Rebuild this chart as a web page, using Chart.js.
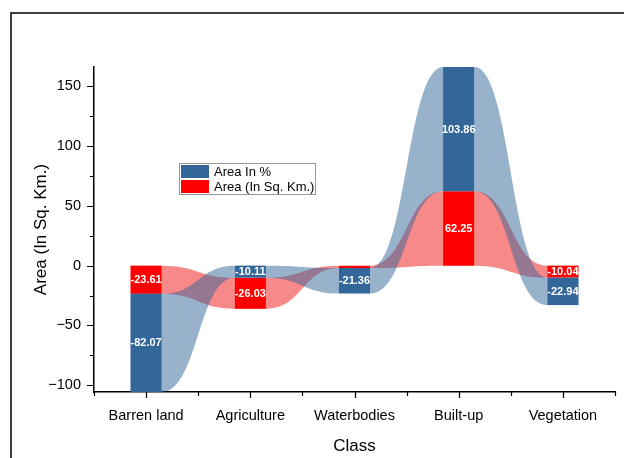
<!DOCTYPE html>
<html>
<head>
<meta charset="utf-8">
<script src="https://cdn.jsdelivr.net/npm/chart.js@4.4.1/dist/chart.umd.min.js"></script>
<style>
  html, body { margin: 0; padding: 0; background: #fff; }
  #wrap { width: 624px; height: 458px; position: relative; }
</style>
</head>
<body>
<div id="wrap"><canvas id="chart"></canvas></div>
<script>
// 데이터
const classes = ['Barren land', 'Agriculture', 'Waterbodies', 'Built-up', 'Vegetation'];
const areaPct = [-82.07, -10.11, -21.36, 103.86, -22.94];
const areaKm = [-23.61, -26.03, -2.0, 62.25, -10.04];
// which series sits against zero in each stack
const innerSeries = ['km', 'pct', 'km', 'km', 'km'];
const yTicks = [-100, -50, 0, 50, 100, 150];
const yMinor = [-75, -25, 25, 75, 125];

// floating ranges for each stack
const pctRange = [];
const kmRange = [];
classes.forEach((c, i) => {
  if (innerSeries[i] === 'km') {
    kmRange.push([0, areaKm[i]]);
    pctRange.push([areaKm[i], areaKm[i] + areaPct[i]]);
  } else {
    pctRange.push([0, areaPct[i]]);
    kmRange.push([areaPct[i], areaPct[i] + areaKm[i]]);
  }
});
const ends = pctRange.concat(kmRange).flat();
const yMin = Math.min(...ends);
const yMax = Math.max(...ends);

const FONT = "'Liberation Sans', Arial, sans-serif";
Chart.defaults.font.family = FONT;
Chart.defaults.color = '#000';

// 연결 밴드 (위쪽 끝끼리, 아래쪽 끝끼리)
const bandPlugin = {
  id: 'bands',
  beforeDatasetsDraw(chart) {
    const { ctx } = chart;
    const y = chart.scales.y;
    [1, 0].forEach((di) => {
      const meta = chart.getDatasetMeta(di);
      const ds = chart.data.datasets[di];
      ctx.save();
      ctx.fillStyle = ds.bandColor;
      for (let i = 0; i < meta.data.length - 1; i++) {
        const a = meta.data[i], b = meta.data[i + 1];
        const ra = ds.data[i], rb = ds.data[i + 1];
        const x0 = a.x + a.width / 2, x1 = b.x - b.width / 2, xm = (x0 + x1) / 2;
        const aTop = y.getPixelForValue(Math.max(...ra)), aBot = y.getPixelForValue(Math.min(...ra));
        const bTop = y.getPixelForValue(Math.max(...rb)), bBot = y.getPixelForValue(Math.min(...rb));
        ctx.beginPath();
        ctx.moveTo(x0, aTop);
        ctx.bezierCurveTo(xm, aTop, xm, bTop, x1, bTop);
        ctx.lineTo(x1, bBot);
        ctx.bezierCurveTo(xm, bBot, xm, aBot, x0, aBot);
        ctx.closePath();
        ctx.fill();
      }
      ctx.restore();
    });
  },
  afterDatasetsDraw(chart) {
    // 값 라벨
    const { ctx } = chart;
    ctx.save();
    ctx.font = 'bold 11px ' + FONT;
    ctx.fillStyle = '#fff';
    ctx.textAlign = 'center';
    ctx.textBaseline = 'middle';
    chart.data.datasets.forEach((ds, di) => {
      chart.getDatasetMeta(di).data.forEach((bar, i) => {
        if (Math.abs(bar.y - bar.base) < 8) return;
        ctx.fillText(ds.values[i].toFixed(2), bar.x, (bar.y + bar.base) / 2 + 0.5);
      });
    });
    ctx.restore();
  },
  afterDraw(chart) {
    const { ctx, chartArea: ca } = chart;
    const x = chart.scales.x, y = chart.scales.y;
    ctx.save();
    ctx.strokeStyle = '#000';
    // 바깥 프레임
    ctx.lineWidth = 1.5;
    ctx.beginPath();
    ctx.moveTo(11, 458);
    ctx.lineTo(11, 13);
    ctx.lineTo(624, 13);
    ctx.stroke();
    // 눈금
    ctx.lineWidth = 1.2;
    ctx.beginPath();
    yTicks.forEach((v) => {
      const p = Math.round(y.getPixelForValue(v)) + 0.5;
      ctx.moveTo(ca.left, p); ctx.lineTo(ca.left - 7, p);
    });
    yMinor.forEach((v) => {
      const p = Math.round(y.getPixelForValue(v)) + 0.5;
      ctx.moveTo(ca.left, p); ctx.lineTo(ca.left - 4, p);
    });
    classes.forEach((c, i) => {
      const p = Math.round(x.getPixelForValue(i)) + 0.5;
      ctx.moveTo(p, ca.bottom); ctx.lineTo(p, ca.bottom + 6);
    });
    const step = x.getPixelForValue(1) - x.getPixelForValue(0);
    for (let i = 0; i <= classes.length; i++) {
      const p = Math.round(x.getPixelForValue(0) - step / 2 + i * step) + 0.5;
      ctx.moveTo(p, ca.bottom); ctx.lineTo(p, ca.bottom + 4);
    }
    ctx.stroke();
    // 범례
    const lx = ca.left + 85, ly = ca.top + 96;
    ctx.fillStyle = '#fff';
    ctx.fillRect(lx, ly, 136, 31);
    ctx.strokeStyle = '#999';
    ctx.lineWidth = 1;
    ctx.strokeRect(lx + 0.5, ly + 0.5, 136, 31);
    ctx.font = '13px ' + FONT;
    ctx.textAlign = 'left';
    ctx.textBaseline = 'middle';
    chart.data.datasets.forEach((ds, di) => {
      const sy = ly + 2 + di * 15;
      ctx.fillStyle = ds.backgroundColor;
      ctx.fillRect(lx + 2, sy, 28, 13);
      ctx.fillStyle = '#000';
      ctx.fillText(ds.label, lx + 35, sy + 7);
    });
    ctx.restore();
  },
};

new Chart(document.getElementById('chart'), {
  type: 'bar',
  data: {
    labels: classes,
    datasets: [
      { label: 'Area In %', data: pctRange, values: areaPct, backgroundColor: '#336699', bandColor: 'rgba(51,102,153,0.5)' },
      { label: 'Area (In Sq. Km.)', data: kmRange, values: areaKm, backgroundColor: '#ff0000', bandColor: 'rgba(240,20,20,0.5)' },
    ],
  },
  options: {
    responsive: true, maintainAspectRatio: false,
    animation: false,
    layout: { padding: { left: 11, top: 67, right: 9, bottom: 0 } },
    datasets: { bar: { grouped: false, barPercentage: 0.3, categoryPercentage: 1, borderWidth: 0 } },
    plugins: { legend: { display: false }, tooltip: { enabled: false } },
    scales: {
      x: {
        grid: { display: false },
        border: { display: true, color: '#000', width: 1.5 },
        ticks: { padding: 7, font: { size: 14.5 }, color: '#000' },
        title: { display: true, text: 'Class', font: { size: 17 }, color: '#000', padding: { top: 0, bottom: 1 } },
        afterFit: (s) => { s.height = 66; },
      },
      y: {
        min: yMin, max: yMax,
        grid: { display: false },
        border: { display: true, color: '#000', width: 1.5 },
        afterBuildTicks: (s) => { s.ticks = yTicks.map((v) => ({ value: v })); },
        ticks: { padding: 5, font: { size: 14.5 }, color: '#000', callback: (v) => (v < 0 ? '\u2212' + Math.abs(v) : v) },
        title: { display: true, text: 'Area (In Sq. Km.)', font: { size: 17 }, color: '#000', padding: { top: 20, bottom: 0 } },
        afterFit: (s) => { s.width = 83; },
      },
    },
  },
  plugins: [bandPlugin],
});
</script>
</body>
</html>
